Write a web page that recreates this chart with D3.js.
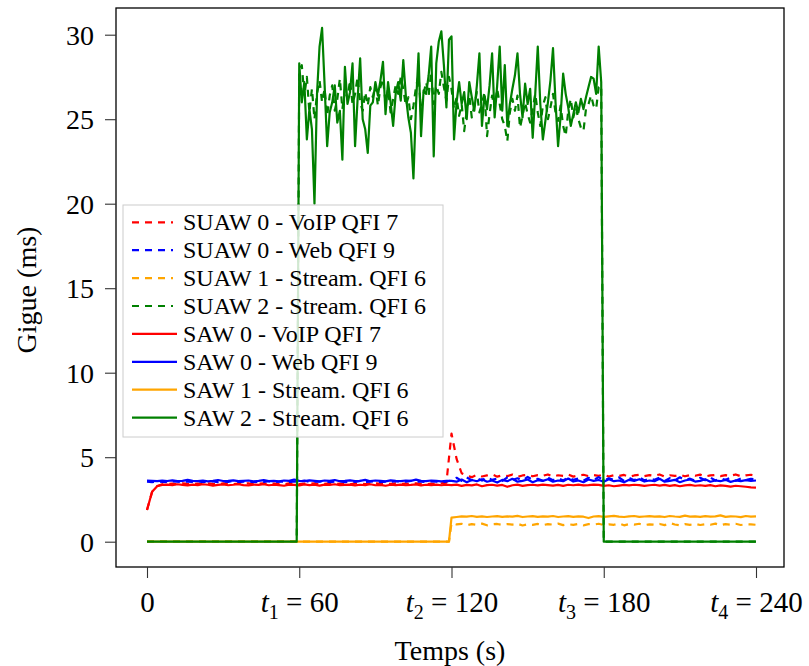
<!DOCTYPE html>
<html>
<head>
<meta charset="utf-8">
<script src="https://cdn.jsdelivr.net/npm/d3@7"></script>
<style>
  html, body { margin: 0; padding: 0; background: #fff; }
  svg { display: block; }
  text { font-family: "Liberation Serif", "Times New Roman", serif; fill: #000; }
</style>
</head>
<body>
<svg id="chart" width="809" height="666"></svg>
<script>
// ---------------- DATA ----------------
const xTickValues = [0, 60, 120, 180, 240];
const xTickSubs   = [null, "1", "2", "3", "4"];
const yTickValues = [0, 5, 10, 15, 20, 25, 30];

const seriesNames = [
  "SUAW 0 - VoIP QFI 7", "SUAW 0 - Web QFI 9", "SUAW 1 - Stream. QFI 6", "SUAW 2 - Stream. QFI 6",
  "SAW 0 - VoIP QFI 7", "SAW 0 - Web QFI 9", "SAW 1 - Stream. QFI 6", "SAW 2 - Stream. QFI 6"
];

// t = 0..240, step 2 s
const suaw0Voip = [
  1.88, 2.95, 3.3, 3.4, 3.42, 3.44, 3.4, 3.45, 3.42, 3.4,
  3.44, 3.41, 3.46, 3.42, 3.4, 3.45, 3.43, 3.41, 3.44, 3.42,
  3.46, 3.4, 3.43, 3.45, 3.41, 3.44, 3.42, 3.4, 3.45, 3.43,
  3.41, 3.44, 3.42, 3.46, 3.4, 3.43, 3.45, 3.41, 3.44, 3.42,
  3.4, 3.45, 3.43, 3.41, 3.44, 3.46, 3.42, 3.4, 3.43, 3.45,
  3.41, 3.44, 3.42, 3.46, 3.43, 3.4, 3.44, 3.42, 3.45, 3.5,
  6.4, 4.9, 4.05, 3.9, 3.82, 3.95, 3.86, 3.92, 3.98, 3.85,
  3.93, 3.88, 3.97, 3.84, 3.92, 3.96, 3.87, 3.94, 3.9, 3.98,
  3.86, 3.93, 3.89, 3.97, 3.85, 3.92, 3.96, 3.88, 3.94, 3.9,
  3.97, 3.86, 3.93, 3.89, 3.95, 3.84, 3.92, 3.96, 3.88, 3.94,
  3.9, 3.98, 3.85, 3.93, 3.89, 3.96, 3.87, 3.94, 3.9, 3.97,
  3.86, 3.92, 3.95, 3.88, 3.94, 3.9, 3.98, 3.87, 3.93, 3.96,
  3.9
];
const suaw0Web = [
  3.55, 3.53, 3.56, 3.54, 3.52, 3.57, 3.55, 3.53, 3.56, 3.54,
  3.58, 3.52, 3.55, 3.57, 3.53, 3.56, 3.54, 3.6, 3.53, 3.55,
  3.57, 3.52, 3.55, 3.54, 3.58, 3.53, 3.56, 3.55, 3.52, 3.57,
  3.54, 3.62, 3.53, 3.56, 3.55, 3.58, 3.52, 3.55, 3.57, 3.53,
  3.56, 3.54, 3.6, 3.53, 3.55, 3.57, 3.52, 3.56, 3.54, 3.58,
  3.53, 3.55, 3.6, 3.54, 3.56, 3.52, 3.57, 3.55, 3.53, 3.56,
  3.62, 3.78, 3.6, 3.8, 3.64, 3.76, 3.62, 3.82, 3.66, 3.74,
  3.6, 3.8, 3.65, 3.75, 3.62, 3.83, 3.66, 3.72, 3.6, 3.79,
  3.64, 3.76, 3.62, 3.8, 3.66, 3.74, 3.6, 3.78, 3.65, 3.82,
  3.62, 3.75, 3.66, 3.8, 3.6, 3.77, 3.64, 3.82, 3.62, 3.74,
  3.66, 3.79, 3.6, 3.76, 3.63, 3.81, 3.65, 3.73, 3.61, 3.78,
  3.64, 3.8, 3.62, 3.75, 3.66, 3.78, 3.6, 3.74, 3.65, 3.72,
  3.68
];
const saw0Voip = [
  1.88, 2.95, 3.28, 3.36, 3.38, 3.35, 3.4, 3.36, 3.33, 3.38,
  3.35, 3.4, 3.37, 3.32, 3.36, 3.39, 3.34, 3.37, 3.41, 3.35,
  3.33, 3.38, 3.36, 3.4, 3.34, 3.37, 3.35, 3.31, 3.38, 3.36,
  3.33, 3.39, 3.35, 3.37, 3.32, 3.38, 3.36, 3.4, 3.34, 3.36,
  3.38, 3.33, 3.37, 3.35, 3.4, 3.34, 3.36, 3.31, 3.37, 3.35,
  3.38, 3.34, 3.36, 3.39, 3.33, 3.37, 3.35, 3.38, 3.34, 3.37,
  3.35, 3.38, 3.3, 3.36, 3.33, 3.39, 3.28, 3.35, 3.37, 3.32,
  3.36, 3.25, 3.34, 3.38, 3.3, 3.35, 3.37, 3.33, 3.38, 3.35,
  3.32, 3.36, 3.3, 3.37, 3.34, 3.38, 3.33, 3.35, 3.38, 3.36,
  3.3, 3.34, 3.28, 3.32, 3.36, 3.33, 3.37, 3.35, 3.3, 3.34,
  3.37, 3.32, 3.36, 3.3, 3.35, 3.28, 3.33, 3.36, 3.31, 3.34,
  3.3, 3.35, 3.28, 3.33, 3.3, 3.26, 3.31, 3.28, 3.25, 3.22,
  3.2
];
const saw0Web = [
  3.62, 3.6, 3.58, 3.61, 3.59, 3.63, 3.58, 3.6, 3.66, 3.6,
  3.58, 3.62, 3.57, 3.6, 3.65, 3.59, 3.6, 3.63, 3.58, 3.6,
  3.62, 3.57, 3.6, 3.64, 3.59, 3.6, 3.57, 3.62, 3.6, 3.68,
  3.6, 3.58, 3.63, 3.6, 3.57, 3.62, 3.6, 3.65, 3.58, 3.6,
  3.63, 3.59, 3.6, 3.66, 3.58, 3.62, 3.6, 3.57, 3.63, 3.6,
  3.58, 3.62, 3.6, 3.67, 3.6, 3.58, 3.62, 3.6, 3.57, 3.6,
  3.6, 3.55, 3.68, 3.52, 3.65, 3.58, 3.7, 3.55, 3.62, 3.5,
  3.66, 3.58, 3.72, 3.55, 3.6, 3.68, 3.52, 3.64, 3.6, 3.7,
  3.55, 3.62, 3.58, 3.74, 3.56, 3.62, 3.52, 3.68, 3.6, 3.65,
  3.55, 3.7, 3.58, 3.62, 3.52, 3.66, 3.6, 3.7, 3.56, 3.62,
  3.58, 3.72, 3.55, 3.6, 3.66, 3.52, 3.62, 3.68, 3.56, 3.6,
  3.7, 3.55, 3.62, 3.58, 3.66, 3.54, 3.62, 3.58, 3.64, 3.6,
  3.62
];

// Streaming QFI 6 (slice 1): 0 until t = 119, then t = 120..240, step 2 s
const suaw1Stream = [
  1.1, 1.02, 1.06, 0.98, 1.04, 1.0, 1.07, 0.97, 1.03, 1.05,
  0.99, 1.04, 1.01, 1.06, 0.96, 1.03, 1.0, 1.05, 0.98, 1.04,
  1.01, 1.07, 0.98, 1.03, 1.0, 1.05, 0.97, 1.04, 1.01, 1.06,
  0.99, 1.03, 1.0, 1.08, 0.97, 1.04, 1.01, 1.06, 0.98, 1.03,
  1.0, 1.05, 0.98, 1.1, 1.02, 0.97, 1.04, 1.0, 1.06, 0.99,
  1.03, 1.0, 1.07, 0.98, 1.04, 1.01, 1.06, 0.99, 1.03, 1.02,
  1.0
];
const saw1Stream = [
  1.42, 1.46, 1.5, 1.48, 1.52, 1.47, 1.5, 1.46, 1.49, 1.51,
  1.47, 1.5, 1.48, 1.53, 1.46, 1.49, 1.51, 1.47, 1.5, 1.48,
  1.52, 1.46, 1.49, 1.51, 1.47, 1.5, 1.48, 1.4, 1.49, 1.51,
  1.47, 1.5, 1.53, 1.48, 1.46, 1.5, 1.52, 1.47, 1.49, 1.51,
  1.48, 1.5, 1.46, 1.52, 1.49, 1.47, 1.54, 1.48, 1.5, 1.47,
  1.51, 1.48, 1.5, 1.56, 1.47, 1.5, 1.49, 1.45, 1.52, 1.48,
  1.5
];

// Streaming QFI 6 (slice 2): 0 outside, t = 59..180 step 1 s
const suaw2Stream = [
  0,
  27.9, 28.2, 26.4, 27.5, 25.4, 26.8, 25.0, 26.5, 27.3, 26.0,
  26.8, 25.2, 26.4, 27.0, 25.5, 26.2, 27.4, 25.6, 26.8, 26.2,
  27.3, 25.9, 26.5, 27.5, 26.0, 25.5, 26.6, 25.8, 26.9, 26.3,
  27.0, 25.8, 26.9, 27.4, 26.0, 26.8, 25.4, 26.2, 27.0, 26.5,
  27.5, 26.8, 25.8, 26.3, 25.0, 25.8, 26.9, 27.6, 25.4, 26.5,
  27.2, 26.4, 27.8, 25.9, 27.0, 26.5, 27.8, 26.9, 26.1, 27.5,
  26.8, 25.6, 26.3, 25.2, 25.9, 24.3, 25.5, 26.4, 25.1, 25.8,
  26.6, 25.4, 25.9, 26.6, 24.0, 25.3, 26.4, 25.6, 26.8, 25.9,
  25.0, 24.6, 23.7, 25.4, 26.2, 25.5, 26.4, 24.5, 25.2, 26.0,
  25.3, 24.8, 25.6, 26.5, 25.4, 24.6, 25.8, 26.3, 25.0, 25.7,
  26.5, 25.4, 24.9, 25.8, 24.6, 24.0, 25.5, 26.2, 25.1, 25.7,
  25.0, 24.5, 24.3, 25.6, 25.9, 26.4, 25.8, 25.6, 26.9, 27.0,
  0
];
const saw2Stream = [
  0,
  28.3, 26.0, 27.2, 23.8, 25.6, 24.4, 20.0, 26.5, 29.3, 30.4,
  27.0, 23.4, 25.4, 26.0, 27.0, 24.8, 25.5, 22.6, 28.1, 25.9,
  26.6, 28.3, 23.4, 26.2, 28.6, 25.0, 24.4, 23.0, 25.8, 26.0,
  27.2, 26.4, 27.3, 28.4, 25.3, 27.2, 26.0, 24.6, 26.5, 27.2,
  26.1, 28.5, 26.4, 25.1, 24.2, 21.5, 25.8, 28.9, 24.0, 26.7,
  26.5, 27.6, 29.3, 22.8, 28.3, 29.6, 30.2, 28.2, 25.7, 29.7,
  29.9, 23.8, 26.0, 27.2, 25.9, 26.6, 25.0, 27.2, 26.3, 25.5,
  27.0, 28.9, 24.6, 26.4, 25.6, 27.0, 28.9, 25.1, 27.0, 29.3,
  25.5, 28.2, 24.6, 25.9, 26.8, 27.6, 28.9, 26.5, 25.1, 27.1,
  25.9, 26.8, 23.9, 26.5, 29.3, 25.9, 23.8, 24.9, 26.0, 27.3,
  29.2, 26.0, 23.4, 25.2, 27.7, 26.5, 25.7, 24.6, 25.3, 26.0,
  25.4, 26.2, 25.6, 26.3, 26.9, 27.5, 27.4, 26.5, 29.3, 27.2,
  0
];

// ---------------- CHART ----------------
const svg = d3.select("#chart");
const frame = { left: 116, top: 8, right: 784, bottom: 567 };

const x = d3.scaleLinear().domain([0, 240]).range([147, 756]);
const y = d3.scaleLinear().domain([0, 30]).range([541.7, 34.7]);

const every2 = arr => arr.map((v, i) => [2 * i, v]);
const from120 = arr => [[0, 0], [119, 0]].concat(arr.map((v, i) => [120 + 2 * i, v]));
const from59 = arr => [[0, 0]].concat(arr.map((v, i) => [59 + i, v]), [[240, 0]]);

const colors = ["#ff0000", "#0000ff", "#ffa500", "#008000"];
const series = [
  { name: seriesNames[0], color: colors[0], dashed: true,  pts: every2(suaw0Voip) },
  { name: seriesNames[1], color: colors[1], dashed: true,  pts: every2(suaw0Web) },
  { name: seriesNames[2], color: colors[2], dashed: true,  pts: from120(suaw1Stream) },
  { name: seriesNames[3], color: colors[3], dashed: true,  pts: from59(suaw2Stream) },
  { name: seriesNames[4], color: colors[0], dashed: false, pts: every2(saw0Voip) },
  { name: seriesNames[5], color: colors[1], dashed: false, pts: every2(saw0Web) },
  { name: seriesNames[6], color: colors[2], dashed: false, pts: from120(saw1Stream) },
  { name: seriesNames[7], color: colors[3], dashed: false, pts: from59(saw2Stream) }
];

const DASH = "7,6";
const LW = 2.2;

const line = d3.line().x(d => x(d[0])).y(d => y(d[1]));

svg.append("g").selectAll("path").data(series).join("path")
  .attr("d", d => line(d.pts))
  .attr("fill", "none")
  .attr("stroke", d => d.color)
  .attr("stroke-width", LW)
  .attr("stroke-linejoin", "round")
  .attr("stroke-dasharray", d => d.dashed ? DASH : null);

// frame
svg.append("rect")
  .attr("x", frame.left).attr("y", frame.top)
  .attr("width", frame.right - frame.left).attr("height", frame.bottom - frame.top)
  .attr("fill", "none").attr("stroke", "#000").attr("stroke-width", 1.3);

// y axis
const yAxis = svg.append("g")
  .attr("transform", `translate(${frame.left},0)`)
  .call(d3.axisLeft(y).tickValues(yTickValues).tickSize(11).tickPadding(11));
yAxis.select(".domain").remove();
yAxis.selectAll(".tick line").attr("stroke", "#333").attr("stroke-width", 1.1);
yAxis.selectAll(".tick text")
  .attr("font-family", "Liberation Serif, serif").attr("font-size", 28).attr("fill", "#000")
  .attr("dy", "0.34em");

// x axis
const xAxis = svg.append("g")
  .attr("transform", `translate(0,${frame.bottom})`)
  .call(d3.axisBottom(x).tickValues(xTickValues).tickSize(11).tickPadding(13).tickFormat(() => ""));
xAxis.select(".domain").remove();
xAxis.selectAll(".tick line").attr("stroke", "#333").attr("stroke-width", 1.1);
xAxis.selectAll(".tick text").each(function(d, i) {
  const t = d3.select(this)
    .attr("font-family", "Liberation Serif, serif").attr("font-size", 29).attr("fill", "#000");
  t.text(null);
  if (xTickSubs[i] === null) {
    t.append("tspan").text(String(d));
  } else {
    t.append("tspan").attr("font-style", "italic").text("t");
    t.append("tspan").attr("font-size", 20).attr("dy", 7).text(xTickSubs[i]);
    t.append("tspan").attr("dy", -7).text(" = " + d);
  }
});

// axis labels
svg.append("text")
  .attr("x", 450).attr("y", 660)
  .attr("text-anchor", "middle").attr("font-size", 28)
  .text("Temps (s)");
svg.append("text")
  .attr("transform", "translate(36,290) rotate(-90)")
  .attr("text-anchor", "middle").attr("font-size", 28)
  .text("Gigue (ms)");

// legend
const lg = svg.append("g");
lg.append("rect")
  .attr("x", 123).attr("y", 205).attr("width", 320).attr("height", 232)
  .attr("fill", "#fff").attr("fill-opacity", 0.82)
  .attr("stroke", "#cccccc").attr("stroke-width", 1);
const rowY = i => 222.3 + i * 27.9;
const items = lg.selectAll("g.item").data(series).join("g").attr("class", "item")
  .attr("transform", (d, i) => `translate(0,${rowY(i)})`);
items.append("line")
  .attr("x1", 132).attr("x2", d => d.dashed ? 173 : 177)
  .attr("y1", 0).attr("y2", 0)
  .attr("stroke", d => d.color).attr("stroke-width", LW)
  .attr("stroke-dasharray", d => d.dashed ? DASH : null);
items.append("text")
  .attr("x", 183).attr("y", 0).attr("dy", "0.34em")
  .attr("font-size", 24)
  .text(d => d.name);
</script>
</body>
</html>
